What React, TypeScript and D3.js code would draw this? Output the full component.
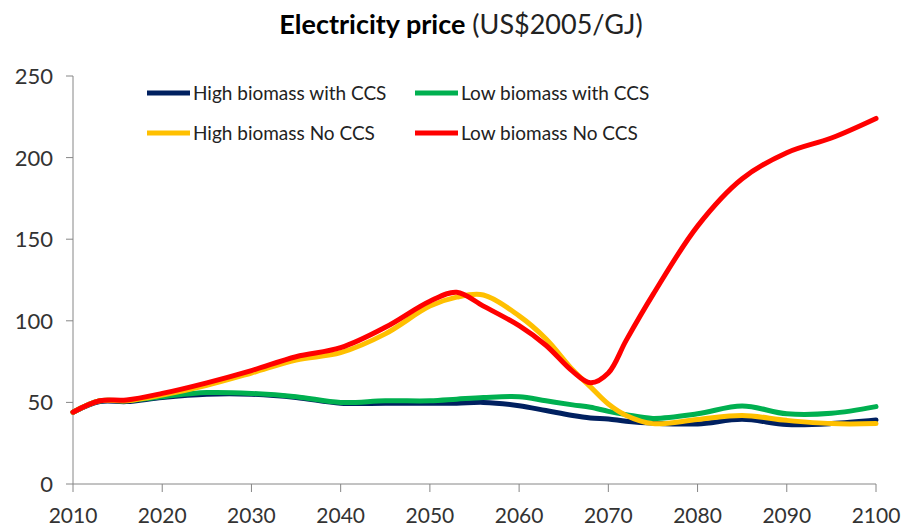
import React, { useEffect } from "react";
import * as d3 from "d3";

const years = [2010, 2013, 2016, 2020, 2025, 2030, 2035, 2040, 2045, 2050, 2053, 2056, 2060, 2063, 2066, 2068, 2070, 2072, 2075, 2080, 2085, 2090, 2095, 2100];

const highCCS = [44, 50.5, 50.5, 53, 55, 55, 53, 49.5, 49.5, 49.5, 49.5, 50, 48, 45, 42, 40.5, 39.8, 38.5, 37.3, 36.8, 39.6, 36.5, 37, 39.2];
const lowCCS = [44, 51, 51, 53.5, 56, 55.5, 53.5, 50, 51, 51, 52, 53, 53.5, 51, 48.5, 47, 44.5, 42.5, 40.2, 43, 47.8, 43, 43.3, 47.4];
const highNoCCS = [44, 51, 51, 54.5, 60.5, 68, 76, 80.5, 92, 109, 114.5, 115.8, 103, 89, 70, 59.5, 49, 42, 37, 39.5, 42, 39, 37, 37];
const lowNoCCS = [44, 51, 51.5, 55.5, 62, 69.5, 78, 83.5, 96, 112, 117.5, 109, 97, 85, 69, 62, 68, 88, 116, 158, 187, 203, 212, 224];

const seriesNames = ["High biomass with CCS", "Low biomass with CCS", "High biomass No CCS", "Low biomass No CCS"];
const seriesValues = [highCCS, lowCCS, highNoCCS, lowNoCCS];
const seriesColors = ["#002060", "#00B050", "#FFC000", "#FF0000"];

const yTicks = [0, 50, 100, 150, 200, 250];
const xTicks = [2010, 2020, 2030, 2040, 2050, 2060, 2070, 2080, 2090, 2100];

const W = 904;
const H = 529;

export default function App() {
  useEffect(() => {
    document.body.style.margin = "0";
  }, []);

  const x = d3.scaleLinear().domain([2010, 2100]).range([73, 876]);
  const y = d3.scaleLinear().domain([0, 250]).range([484, 76]);
  const line = d3
    .line<[number, number]>()
    .x((d) => x(d[0]))
    .y((d) => y(d[1]))
    .curve(d3.curveCatmullRom.alpha(0.5));

  const axisColor = "#868686";
  const font = "Lato, 'Open Sans', sans-serif";

  const legendPos = [
    { lx: 147, ly: 93 },
    { lx: 415, ly: 93 },
    { lx: 147, ly: 133 },
    { lx: 415, ly: 133 },
  ];

  return (
    <svg width={W} height={H} style={{ display: "block", background: "#fff" }} fontFamily={font}>
      <text x={461} y={34} textAnchor="middle" fontSize={27} fill="#000">
        <tspan fontWeight="bold">Electricity price</tspan>
        <tspan fill="#222"> (US$2005/GJ)</tspan>
      </text>

      {/* y axis */}
      <line x1={x(2010)} x2={x(2010)} y1={y(250)} y2={y(0)} stroke={axisColor} strokeWidth={1} />
      {yTicks.map((t) => (
        <g key={"y" + t}>
          <line x1={x(2010) - 7} x2={x(2010)} y1={y(t)} y2={y(t)} stroke={axisColor} strokeWidth={1} />
          <text x={53} y={y(t)} dy="0.36em" textAnchor="end" fontSize={22} fill="#333">
            {t}
          </text>
        </g>
      ))}

      {/* x axis */}
      <line x1={x(2010)} x2={x(2100)} y1={y(0)} y2={y(0)} stroke={axisColor} strokeWidth={1} />
      {xTicks.map((t) => (
        <g key={"x" + t}>
          <line x1={x(t)} x2={x(t)} y1={y(0)} y2={y(0) + 8} stroke={axisColor} strokeWidth={1} />
          <text x={x(t)} y={523} textAnchor="middle" fontSize={21} fill="#333">
            {t}
          </text>
        </g>
      ))}

      {/* series */}
      {seriesValues.map((vals, i) => (
        <path
          key={"s" + i}
          d={line(years.map((yr, j) => [yr, vals[j]] as [number, number])) || ""}
          fill="none"
          stroke={seriesColors[i]}
          strokeWidth={5}
          strokeLinejoin="round"
          strokeLinecap="round"
        />
      ))}

      {/* legend */}
      {seriesNames.map((name, i) => (
        <g key={"l" + i}>
          <line
            x1={legendPos[i].lx}
            x2={legendPos[i].lx + 43}
            y1={legendPos[i].ly}
            y2={legendPos[i].ly}
            stroke={seriesColors[i]}
            strokeWidth={5}
          />
          <text x={legendPos[i].lx + 46} y={legendPos[i].ly} dy="0.36em" fontSize={19} fill="#222">
            {name}
          </text>
        </g>
      ))}
    </svg>
  );
}
